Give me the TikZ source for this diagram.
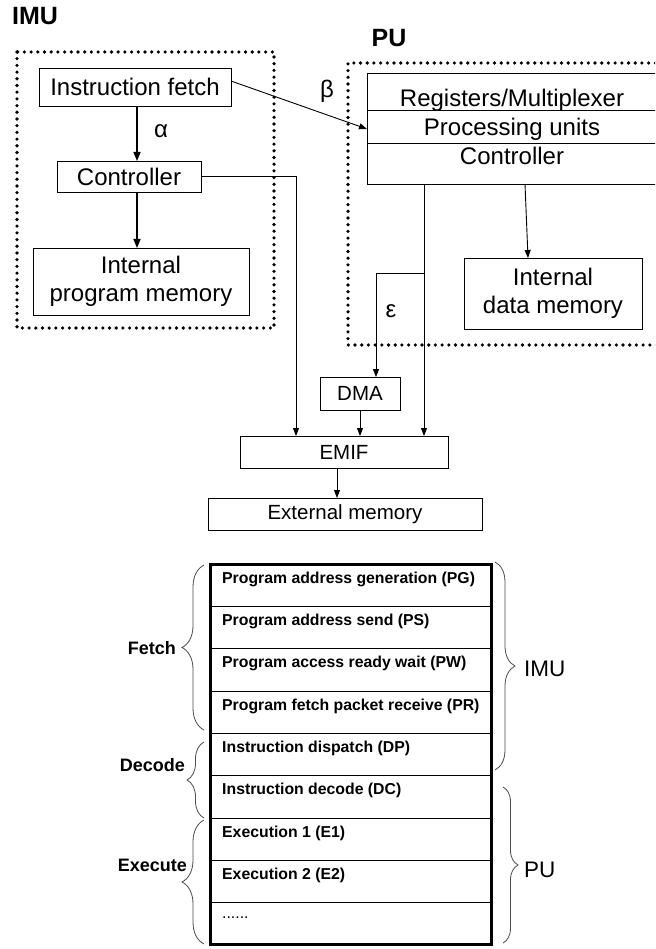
\documentclass[tikz,border=0pt]{standalone}
\usepackage{fontspec}
\setmainfont{Liberation Sans}
\usetikzlibrary{arrows.meta,calc,decorations.pathreplacing}
\newcommand\mysixdots{\mdseries......}
\begin{document}
\begin{tikzpicture}[x=1pt,y=-1pt,
  box/.style={draw, line width=0.9pt, inner sep=0pt, outer sep=0pt, anchor=north west, align=center, font=\fontsize{24}{27.5}\selectfont},
  sbox/.style={box, font=\fontsize{20.5}{24}\selectfont},
  dotbox/.style={line width=3.6pt, line cap=round, dash pattern=on 0pt off 6.7pt},
  thickarr/.style={line width=1.5pt, -{Triangle[length=9pt,width=7pt]}},
  arr/.style={line width=0.9pt, -{Triangle[length=8pt,width=6pt]}},
  title/.style={font=\bfseries\fontsize{25}{28}\selectfont, inner sep=0pt},
  lbl/.style={font=\fontsize{24}{28}\selectfont, inner sep=0pt},
  rowbox/.style={draw, line width=0.8pt, inner sep=0pt, outer sep=0pt, minimum width=281pt, minimum height=42.33pt, anchor=north west},
  rowtext/.style={font=\bfseries\fontsize{15.8}{18}\selectfont, anchor=west, inner sep=0pt},
  curly/.style={decorate, decoration={brace, amplitude=#1}, draw=black!70, line width=0.8pt},
  stage/.style={font=\bfseries\fontsize{18}{20}\selectfont, inner sep=0pt, anchor=east},
  unit/.style={font=\fontsize{22.5}{25}\selectfont, inner sep=0pt, anchor=west}
]
\clip (0,0) rectangle (655,949);
\fill[white] (0,0) rectangle (655,949);

% titles
\node[title] (timu) at (35,16) {IMU};
\node[title] (tpu) at (389,38) {PU};

% dotted boxes
\draw[dotbox] (17,52) rectangle (274,328);
\draw[dotbox] (662,63) -- (348,63) -- (348,345) -- (662,345);

% IMU boxes
\node[box, minimum width=192pt, minimum height=38pt] (fetch) at (39,68) {Instruction fetch};
\node[box, minimum width=144pt, minimum height=31pt] (ctrl) at (57,161) {Controller};
\node[box, minimum width=216pt, minimum height=67pt] (ipm) at (33,248) {Internal\\program memory};

% PU box
\node[box, minimum width=290pt, minimum height=111pt] (pu) at (367,73) {};
\node[lbl, anchor=base] (pr1) at (512,107) {Registers/Multiplexer};
\node[lbl, anchor=base] (pr2) at (512,136) {Processing units};
\node[lbl, anchor=base] (pr3) at (512,165) {Controller};
\coordinate (l1) at (0,110);
\coordinate (l2) at (0,143);
\draw[line width=0.9pt] (pu.west |- l1) -- (pu.east |- l1);
\draw[line width=0.9pt] (pu.west |- l2) -- (pu.east |- l2);

\node[box, minimum width=178pt, minimum height=71pt] (idm) at (464,258) {Internal\\data memory};

% lower boxes
\node[sbox, minimum width=80pt, minimum height=33pt] (dma) at (320,377) {DMA};
\node[sbox, minimum width=208pt, minimum height=32pt] (emif) at (240,436) {EMIF};
\node[sbox, minimum width=274pt, minimum height=32pt] (ext) at (208,498) {External memory};

% labels
\node[lbl] (alpha) at (161,131) {α};
\node[lbl] (beta) at (327,91) {β};
\node[lbl] (eps) at (391,311) {ε};

% IMU arrows
\coordinate (ax) at (137,0);
\draw[thickarr] (fetch.south -| ax) -- (ctrl.north -| ax);
\draw[thickarr] (ctrl.south -| ax) -- (ipm.north -| ax);

% beta arrow
\coordinate (bs) at ($(fetch.north east)+(0,13)$);
\coordinate (be) at ($(pu.north west)+(0,56)$);
\draw[arr] (bs) -- (be);

% controller to EMIF
\coordinate (cx) at (296,0);
\draw[arr] (ctrl.east) -- (ctrl.east -| cx) -- (cx |- emif.north);

% PU to internal data memory
\draw[arr] ($(pu.south west)+(158,0)$) -- ($(idm.north west)+(64,0)$);

% PU to EMIF and DMA
\coordinate (pl) at ($(pu.south west)+(57,0)$);
\draw[arr] (pl) -- (pl |- emif.north);
\coordinate (br) at (424,273);
\coordinate (bl) at (376,273);
\draw[arr] (br) -- (bl) -- (bl |- dma.north);

% DMA to EMIF, EMIF to external memory
\draw[arr] (dma.south) -- (dma.south |- emif.north);
\coordinate (ex) at (337,0);
\draw[arr] (emif.south -| ex) -- (ext.north -| ex);

% pipeline table
\foreach \txt [count=\i] in {Program address generation (PG), Program address send (PS), Program access ready wait (PW), Program fetch packet receive (PR), Instruction dispatch (DP), Instruction decode (DC), Execution 1 (E1), Execution 2 (E2), \mysixdots} {
  \node[rowbox] (row\i) at (210,{564+(\i-1)*42.33}) {};
  \node[rowtext] (rt\i) at ($(row\i.north west)+(12,15)$) {\txt};
}
\draw[line width=3pt] (row1.north west) rectangle (row9.south east);

% left braces
\draw[curly=22pt] (204,730) -- (204,565);
\draw[curly=17pt] (204,818) -- (204,742);
\draw[curly=22pt] (204,944) -- (204,820);
\node[stage] (sfetch) at (176,648) {Fetch};
\node[stage] (sdec) at (185,765) {Decode};
\node[stage] (sexe) at (187,865) {Execute};

% right braces
\draw[curly=20pt] (495,562) -- (495,770);
\draw[curly=15pt] (503,787) -- (503,943);
\node[unit] (uimu) at (524,669) {IMU};
\node[unit] (upu) at (524,870) {PU};
\end{tikzpicture}
\end{document}
